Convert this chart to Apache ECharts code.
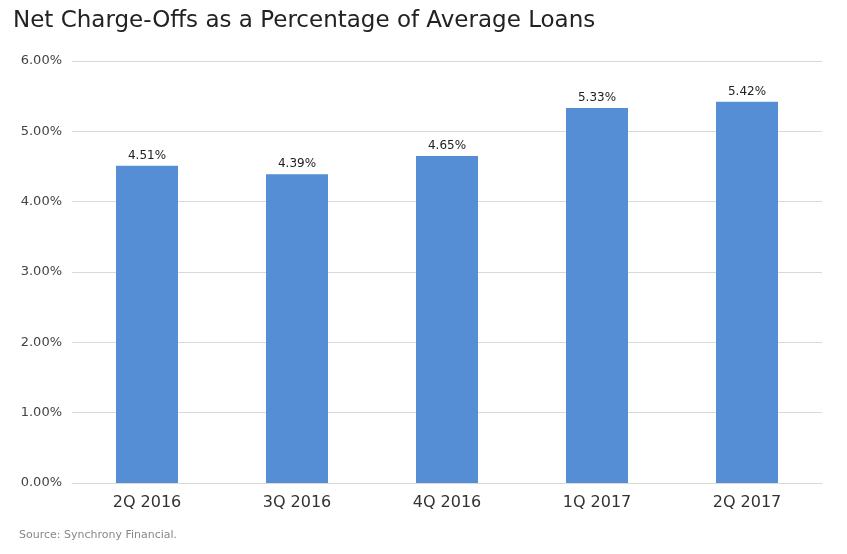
<!DOCTYPE html>
<html><head><meta charset="utf-8">
<script src="https://cdn.jsdelivr.net/npm/echarts@6/dist/echarts.min.js"></script>
<style>html,body{margin:0;padding:0;background:#fff}#c{width:847px;height:554px}</style>
</head><body><div id="c"></div>
<script>
const categories = ['2Q 2016','3Q 2016','4Q 2016','1Q 2017','2Q 2017'];
const values = [4.51, 4.39, 4.65, 5.33, 5.42];
const chart = echarts.init(document.getElementById('c'));
chart.setOption({
  animation:false,
  title:[{text:'Net Charge-Offs as a Percentage of Average Loans',left:8,top:5,
    textStyle:{fontFamily:'DejaVu Sans',fontWeight:'normal',fontSize:23,color:'#222'}},
    {text:'Source: Synchrony Financial.',left:14,bottom:8,
    textStyle:{fontFamily:'DejaVu Sans',fontWeight:'normal',fontSize:11,color:'#888'}}],
  grid:{left:72,right:25,top:61,bottom:71},
  xAxis:{type:'category',data:categories,
    axisLine:{lineStyle:{color:'#d9d9d9'}},axisTick:{show:false},
    axisLabel:{fontFamily:'DejaVu Sans',fontSize:16,color:'#333',margin:12}},
  yAxis:{type:'value',min:0,max:6,interval:1,
    axisLabel:{formatter:v=>v.toFixed(2)+'%',fontFamily:'DejaVu Sans',fontSize:13,color:'#444',margin:10},
    splitLine:{lineStyle:{color:'#d9d9d9'}},axisLine:{show:false},axisTick:{show:false}},
  series:[{type:'bar',data:values,barWidth:62,itemStyle:{color:'#558ED5'},
    label:{show:true,position:'top',formatter:p=>p.value.toFixed(2)+'%',
      fontFamily:'DejaVu Sans',fontSize:12,color:'#222',distance:4}}]
});
</script></body></html>
